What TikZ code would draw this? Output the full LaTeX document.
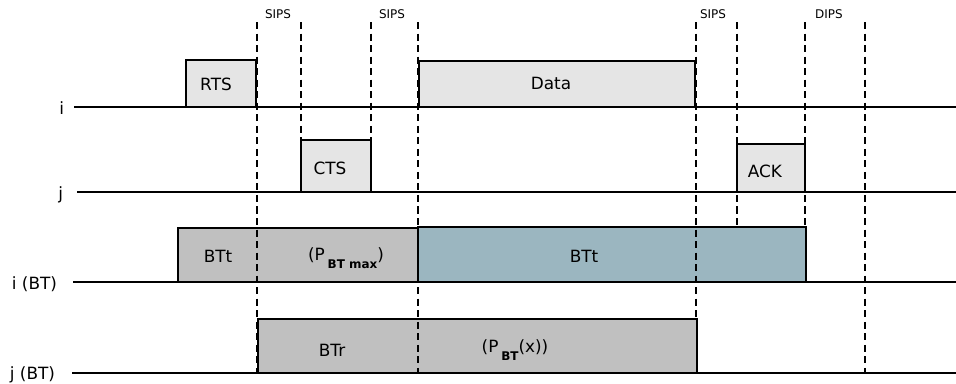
\documentclass[tikz,border=0pt]{standalone}
\usepackage{fontspec}
\setmainfont{DejaVu Sans}
\definecolor{pktgray}{HTML}{E5E5E5}
\definecolor{btgray}{HTML}{C0C0C0}
\definecolor{btblue}{HTML}{9BB6C0}
\newcommand{\btsub}[1]{\,\raisebox{-0.9ex}{\fontsize{8.5}{9}\selectfont\bfseries #1}}
\begin{document}
\begin{tikzpicture}[x=0.025cm,y=-0.025cm,font=\fontsize{12}{14}\selectfont,
  frame/.style={draw=black,line width=2pt},
  slot/.style={line width=1.4pt,dash pattern=on 5pt off 3.2pt},
  gaplabel/.style={font=\fontsize{8.5}{10}\selectfont},
  rowlabel/.style={anchor=base east}]
\useasboundingbox (0,0) rectangle (956,383);
% frames on the air
\draw[frame,fill=pktgray] (186,60) rectangle (256,107);
\draw[frame,fill=pktgray] (419,61) rectangle (695,107);
\draw[frame,fill=pktgray] (301,140) rectangle (371,192);
\draw[frame,fill=pktgray] (737,144) rectangle (805,192);
% busy tones
\draw[frame,fill=btgray] (178,228) rectangle (418,282);
\draw[frame,fill=btblue] (418,227) rectangle (806,282);
\draw[frame,fill=btgray] (258,319) rectangle (697,373);
% slot boundaries
\foreach \x/\yend in {257/373,301/140,371/140,418/373,696/319,737/228,805/228,865/373}
  \draw[slot] (\x,22) -- (\x,\yend);
\node[gaplabel] (sipsa) at (278,14) {SIPS};
\node[gaplabel] (sipsb) at (392,14) {SIPS};
\node[gaplabel] (sipsc) at (713,14) {SIPS};
\node[gaplabel] (dips) at (829,14) {DIPS};
% time lines
\draw[line width=2pt] (74,107) -- (956,107);
\draw[line width=2pt] (77,192) -- (956,192);
\draw[line width=2pt] (73,282) -- (956,282);
\draw[line width=2pt] (72,373) -- (956,373);
\node[rowlabel] (rowi) at (69,114) {i};
\node[rowlabel] (rowj) at (68,199) {j};
\node[rowlabel] (rowibt) at (62,289) {i (BT)};
\node[rowlabel] (rowjbt) at (60,379) {j (BT)};
% labels
\node (rts) at (216,84) {RTS};
\node (data) at (551,83) {Data};
\node (cts) at (330,168) {CTS};
\node (ack) at (765,171) {ACK};
\node (btta) at (218,256) {BTt};
\node (pmax) at (346,258) {(P\btsub{BT max})};
\node (bttb) at (584,256) {BTt};
\node (btr) at (332,350) {BTr};
\node (px) at (515,350) {(P\btsub{BT}(x))};
\end{tikzpicture}
\end{document}
